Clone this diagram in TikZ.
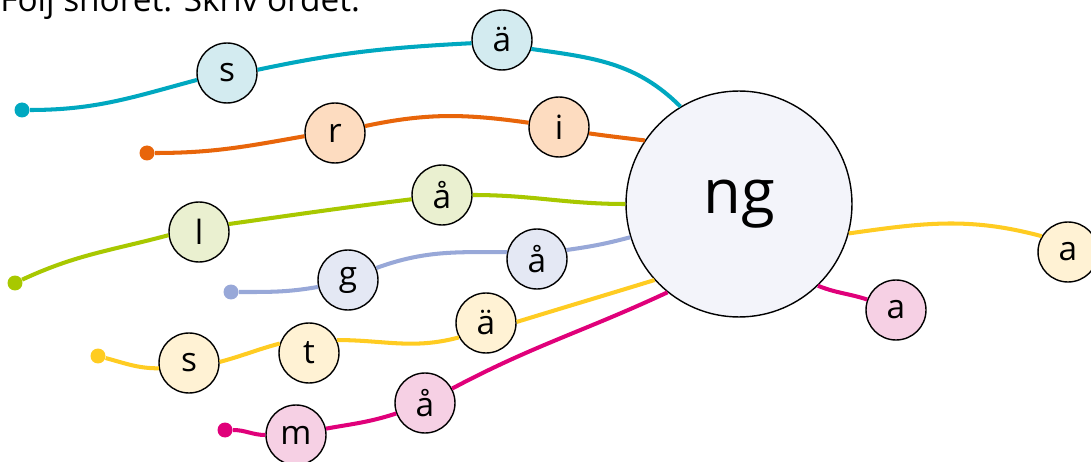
\documentclass[tikz,border=0pt]{standalone}
\usepackage{fontspec}
\setmainfont{Open Sans}
\usetikzlibrary{calc}
\usetikzlibrary{positioning}

\definecolor{cyanline}{HTML}{00A8C0}
\definecolor{cyanfill}{HTML}{D3EBF0}
\definecolor{orangeline}{HTML}{E8650A}
\definecolor{orangefill}{HTML}{FDDCC0}
\definecolor{greenline}{HTML}{A8C800}
\definecolor{greenfill}{HTML}{EAF0D0}
\definecolor{blueline}{HTML}{98A8D8}
\definecolor{bluefill}{HTML}{E4E8F4}
\definecolor{yellowline}{HTML}{FFCC22}
\definecolor{yellowfill}{HTML}{FFF2D4}
\definecolor{pinkline}{HTML}{E0007A}
\definecolor{pinkfill}{HTML}{F6D0E4}
\definecolor{bigfill}{HTML}{F3F4FA}

\begin{document}
\begin{tikzpicture}[x=0.02cm, y=-0.02cm,
    letter/.style={circle, draw=black, line width=0.8pt, minimum size=1.2cm, inner sep=0pt, font=\fontsize{19}{19}\selectfont},
    knot/.style={circle, fill=#1, minimum size=0.3cm, inner sep=0pt},
    string/.style={line width=2.3pt, #1}]
            \useasboundingbox (0,0) rectangle (1091,462);

            % Title
            \node[anchor=base west, inner sep=0pt, font=\fontsize{19}{19}\selectfont] (title) at (0,12) {Följ snöret. Skriv ordet.};

            % Centre
            \node[circle, draw=black, line width=0.8pt, fill=bigfill, minimum size=4.52cm, inner sep=0pt, font=\fontsize{35}{35}\selectfont] (ng) at (739,204) {ng};

            % Letters
            \node[letter, fill=cyanfill] (s1) at (227,73) {s};
            \node[letter, fill=cyanfill] (ae1) at (502,40) {ä};
            \node[letter, fill=orangefill] (r) at (335,133) {r};
            \node[letter, fill=orangefill] (i) at (559,127) {i};
            \node[letter, fill=greenfill] (l) at (199,232) {l};
            \node[letter, fill=greenfill] (aa1) at (442,195) {å};
            \node[letter, fill=bluefill] (g) at (348,280) {g};
            \node[letter, fill=bluefill] (aa2) at (537,259) {å};
            \node[letter, fill=yellowfill] (s2) at (189,363) {s};
            \node[letter, fill=yellowfill] (t) at (309,353) {t};
            \node[letter, fill=yellowfill] (ae2) at (486,323) {ä};
            \node[letter, fill=pinkfill] (m) at (296,435) {m};
            \node[letter, fill=pinkfill] (aa3) at (425,403) {å};
            \node[letter, fill=yellowfill] (a1) at (1068,252) {a};
            \node[letter, fill=pinkfill] (a2) at (896,310) {a};

            % Knots
            \node[knot=cyanline] (k1) at (22,110) {};
            \node[knot=orangeline] (k2) at (147,153) {};
            \node[knot=greenline] (k3) at (15,283) {};
            \node[knot=blueline] (k4) at (231,292) {};
            \node[knot=yellowline] (k5) at (98,356) {};
            \node[knot=pinkline] (k6) at (225,430) {};

            % Strings
            \draw[string=cyanline] (k1) to[out=0, in=195] (s1.193) (s1.6) to[out=12, in=183] (ae1.186) (ae1.343) to[out=-8, in=135] (ng.121);
            \draw[string=orangeline] (k2) to[out=0, in=190] (r.186) (r.13) to[out=12, in=172] (i.172) (i.348) to[out=-8, in=173] (ng.146);
            \draw[string=greenline] (k3) to[out=25, in=195] (l.186) (l.15) to[out=8, in=187] (aa1.188) (aa1.0) to[out=0, in=180] (ng.180);
            \draw[string=blueline] (k4) to[out=0, in=190] (g.193) (g.23) to[out=20, in=180] (aa2.167) (aa2.17) to[out=8, in=195] (ng.197);
            \draw[string=yellowline] (k5) to[out=-15, in=180] (s2.190) (s2.2) to[out=15, in=195] (t.162) (t.25) to[out=0, in=195] (ae2.208) (ae2.2) to[out=17, in=197] (ng.222);
            \draw[string=pinkline] (k6) to[out=0, in=180] (m.180) (m.12) to[out=10, in=198] (aa3.200) (aa3.28) to[out=28, in=205] (ng.231);
            \draw[string=yellowline] (ng.345) to[out=8, in=165] (a1.149);
            \draw[string=pinkline] (ng.314) to[out=-22, in=162] (a2.160);
\end{tikzpicture}
\end{document}
